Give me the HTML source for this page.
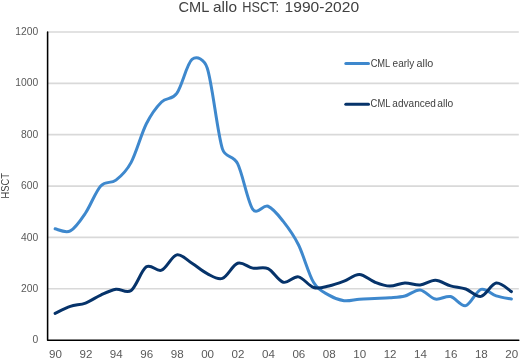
<!DOCTYPE html>
<html><head><meta charset="utf-8"><style>
html,body{margin:0;padding:0;background:#fff;}
body{width:520px;height:359px;overflow:hidden;}
svg{display:block;will-change:transform;}
text{font-family:"Liberation Sans",sans-serif;}
</style></head><body>
<svg width="520" height="359" viewBox="0 0 520 359">
<rect width="520" height="359" fill="#fff"/>
<g stroke="#d9d9d9" stroke-width="1.7"><line x1="48" y1="288.75" x2="518.8" y2="288.75"/><line x1="48" y1="237.40" x2="518.8" y2="237.40"/><line x1="48" y1="186.05" x2="518.8" y2="186.05"/><line x1="48" y1="134.70" x2="518.8" y2="134.70"/><line x1="48" y1="83.35" x2="518.8" y2="83.35"/><line x1="48" y1="32.00" x2="518.8" y2="32.00"/></g>
<g fill="#404040"><text x="178.46" y="12.00" font-size="14.50" textLength="30.83" lengthAdjust="spacingAndGlyphs" >CML</text><text x="213.04" y="12.00" font-size="14.50" textLength="24.00" lengthAdjust="spacingAndGlyphs" >allo</text><text x="242.29" y="12.00" font-size="14.50" textLength="36.83" lengthAdjust="spacingAndGlyphs" >HSCT:</text><text x="284.61" y="12.00" font-size="14.50" textLength="74.50" lengthAdjust="spacingAndGlyphs" >1990-2020</text></g>
<g font-size="10.3" fill="#595959" text-anchor="end"><text x="38.25" y="343.00">0</text><text x="38.25" y="292.00">200</text><text x="38.25" y="241.00">400</text><text x="38.25" y="189.00">600</text><text x="38.25" y="138.00">800</text><text x="38.25" y="86.00">1000</text><text x="38.25" y="35.00">1200</text></g>
<g font-size="10.3" fill="#595959" text-anchor="middle"><text x="55.50" y="357.8" textLength="12.9" lengthAdjust="spacingAndGlyphs">90</text><text x="85.92" y="357.8" textLength="12.9" lengthAdjust="spacingAndGlyphs">92</text><text x="116.34" y="357.8" textLength="12.9" lengthAdjust="spacingAndGlyphs">94</text><text x="146.76" y="357.8" textLength="12.9" lengthAdjust="spacingAndGlyphs">96</text><text x="177.18" y="357.8" textLength="12.9" lengthAdjust="spacingAndGlyphs">98</text><text x="207.60" y="357.8" textLength="12.9" lengthAdjust="spacingAndGlyphs">00</text><text x="238.02" y="357.8" textLength="12.9" lengthAdjust="spacingAndGlyphs">02</text><text x="268.44" y="357.8" textLength="12.9" lengthAdjust="spacingAndGlyphs">04</text><text x="298.86" y="357.8" textLength="12.9" lengthAdjust="spacingAndGlyphs">06</text><text x="329.28" y="357.8" textLength="12.9" lengthAdjust="spacingAndGlyphs">08</text><text x="359.70" y="357.8" textLength="12.9" lengthAdjust="spacingAndGlyphs">10</text><text x="390.12" y="357.8" textLength="12.9" lengthAdjust="spacingAndGlyphs">12</text><text x="420.54" y="357.8" textLength="12.9" lengthAdjust="spacingAndGlyphs">14</text><text x="450.96" y="357.8" textLength="12.9" lengthAdjust="spacingAndGlyphs">16</text><text x="481.38" y="357.8" textLength="12.9" lengthAdjust="spacingAndGlyphs">18</text><text x="511.80" y="357.8" textLength="12.9" lengthAdjust="spacingAndGlyphs">20</text></g>
<text transform="translate(8.7,185.8) rotate(-90)" text-anchor="middle" font-size="10.2" fill="#404040" textLength="25.3" lengthAdjust="spacingAndGlyphs">HSCT</text>
<path d="M47.6 32 V340.2 H518.8" fill="none" stroke="#000" stroke-width="1.55" stroke-linecap="round" stroke-linejoin="round"/>
<path d="M55.10 228.85 C57.64 229.19 65.24 233.54 70.31 230.90 C75.38 228.26 80.45 220.51 85.52 213.01 C90.59 205.51 95.66 191.37 100.73 185.90 C105.80 180.42 110.87 184.07 115.94 180.14 C121.01 176.22 126.08 171.75 131.15 162.35 C136.22 152.95 141.29 133.83 146.36 123.76 C151.43 113.70 156.50 107.03 161.57 101.96 C166.64 96.90 171.71 100.45 176.78 93.36 C181.85 86.28 186.92 63.71 191.99 59.47 C197.06 55.24 204.40 59.70 207.20 67.95 C212.27 82.85 217.34 132.92 222.41 148.87 C225.62 158.97 232.86 154.17 237.62 163.64 C242.69 173.71 247.76 202.23 252.83 209.34 C257.34 215.65 262.97 204.25 268.04 206.26 C273.11 208.27 278.18 214.99 283.25 221.40 C288.32 227.82 293.39 234.57 298.46 244.77 C303.53 254.97 308.60 274.20 313.67 282.59 C318.74 290.98 323.81 292.07 328.88 295.09 C333.95 298.12 339.02 300.06 344.09 300.74 C349.16 301.42 354.23 299.57 359.30 299.20 C364.37 298.83 369.44 298.74 374.51 298.51 C379.58 298.27 384.65 298.19 389.72 297.79 C394.79 297.38 399.86 297.37 404.93 296.07 C410.00 294.76 415.07 289.46 420.14 289.96 C425.21 290.45 430.28 297.92 435.35 299.02 C440.42 300.12 445.49 295.46 450.56 296.56 C455.63 297.65 460.70 306.82 465.77 305.62 C470.84 304.42 475.91 290.99 480.98 289.37 C486.05 287.74 491.12 294.25 496.19 295.86 C501.26 297.47 508.86 298.49 511.40 299.02" fill="none" stroke="#3e88cd" stroke-width="3" stroke-linecap="round" stroke-linejoin="round"/>
<path d="M55.10 313.32 C57.64 312.17 65.24 308.10 70.31 306.39 C75.38 304.68 80.45 304.93 85.52 303.05 C90.59 301.17 95.66 297.40 100.73 295.09 C105.80 292.78 110.87 289.96 115.94 289.19 C121.01 288.42 126.08 294.19 131.15 290.47 C136.22 286.75 141.29 270.23 146.36 266.85 C151.43 263.47 156.50 272.18 161.57 270.19 C166.64 268.20 171.71 256.07 176.78 254.91 C181.85 253.75 186.92 260.12 191.99 263.25 C197.06 266.39 202.13 271.18 207.20 273.70 C212.27 276.23 217.34 280.14 222.41 278.40 C227.48 276.66 232.55 264.97 237.62 263.25 C242.69 261.54 247.76 267.23 252.83 268.13 C257.90 269.03 262.97 266.29 268.04 268.65 C273.11 271.00 278.18 280.88 283.25 282.25 C288.32 283.62 293.39 275.99 298.46 276.86 C303.53 277.74 308.60 285.99 313.67 287.52 C318.74 289.05 323.81 287.08 328.88 286.03 C333.95 284.98 339.02 283.11 344.09 281.20 C349.16 279.29 354.23 274.42 359.30 274.55 C364.37 274.68 369.44 280.07 374.51 282.00 C379.58 283.92 384.65 285.95 389.72 286.11 C394.79 286.26 399.86 283.14 404.93 282.95 C410.00 282.76 415.07 285.43 420.14 284.98 C425.21 284.52 430.28 280.05 435.35 280.20 C440.42 280.35 445.49 284.38 450.56 285.85 C455.63 287.32 460.70 287.25 465.77 289.01 C470.84 290.76 475.91 297.36 480.98 296.38 C486.05 295.39 491.12 283.90 496.19 283.10 C501.26 282.30 508.86 290.16 511.40 291.57" fill="none" stroke="#06336a" stroke-width="3" stroke-linecap="round" stroke-linejoin="round"/>
<line x1="345.8" y1="63.4" x2="368.5" y2="63.4" stroke="#3e88cd" stroke-width="3" stroke-linecap="round"/>
<line x1="345.8" y1="104.3" x2="368.5" y2="104.3" stroke="#06336a" stroke-width="3" stroke-linecap="round"/>
<g fill="#404040"><text x="370.63" y="66.50" font-size="10.20" textLength="19.68" lengthAdjust="spacingAndGlyphs" >CML</text><text x="392.57" y="66.50" font-size="10.20" textLength="21.75" lengthAdjust="spacingAndGlyphs" >early</text><text x="416.54" y="66.50" font-size="10.20" textLength="16.81" lengthAdjust="spacingAndGlyphs" >allo</text><text x="370.62" y="107.20" font-size="10.20" textLength="19.79" lengthAdjust="spacingAndGlyphs" >CML</text><text x="392.37" y="107.20" font-size="10.20" textLength="43.57" lengthAdjust="spacingAndGlyphs" >advanced</text><text x="437.26" y="107.20" font-size="10.20" textLength="15.97" lengthAdjust="spacingAndGlyphs" >allo</text></g>
</svg>
</body></html>
